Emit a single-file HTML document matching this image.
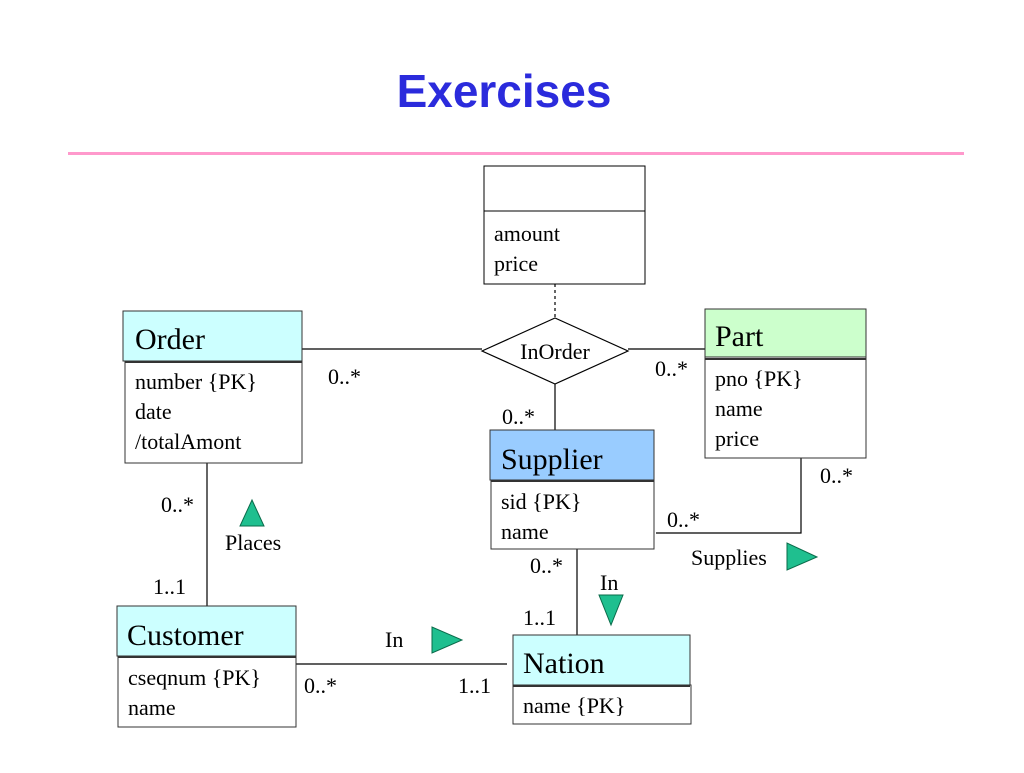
<!DOCTYPE html>
<html><head><style>
body{margin:0;background:#fff;width:1024px;height:768px;overflow:hidden}
svg text{font-family:"Liberation Serif",serif;fill:#000}
</style></head><body>
<svg width="1024" height="768" xmlns="http://www.w3.org/2000/svg">
<text x="504" y="107" text-anchor="middle" style="font-family:'Liberation Sans',sans-serif;font-weight:bold;font-size:46px;fill:#2b2bdc">Exercises</text>
<rect x="68" y="152" width="896" height="3" fill="#ff99cc"/>
<g stroke="#000" stroke-width="1.2" fill="none">
<line x1="302" y1="349" x2="482" y2="349"/>
<line x1="628" y1="349" x2="705" y2="349"/>
<line x1="555" y1="384" x2="555" y2="430"/>
<line x1="555" y1="284" x2="555" y2="318" stroke-dasharray="3,3"/>
<line x1="207" y1="463" x2="207" y2="606"/>
<line x1="577" y1="549" x2="577" y2="635"/>
<line x1="296" y1="664" x2="507" y2="664"/>
<polyline points="656,533 801,533 801,455"/>
</g>
<polygon points="482,351 555,318 628,351 555,384" fill="#fff" stroke="#000" stroke-width="1.2"/>
<text x="555" y="359" font-size="22" text-anchor="middle">InOrder</text>
<!-- top box -->
<rect x="484" y="166" width="161" height="118" fill="#fff" stroke="#000"/>
<line x1="484" y1="211" x2="645" y2="211" stroke="#000"/>
<text x="494" y="241" font-size="22">amount</text>
<text x="494" y="271" font-size="22">price</text>
<!-- Order -->
<rect x="123" y="311" width="179" height="50" fill="#ccffff" stroke="#333"/>
<rect x="125" y="361" width="177" height="102" fill="#fff" stroke="#333"/>
<line x1="125" y1="362" x2="302" y2="362" stroke="#333" stroke-width="2"/>
<text x="135" y="349" font-size="30">Order</text>
<text x="135" y="389" font-size="22">number {PK}</text>
<text x="135" y="419" font-size="22">date</text>
<text x="135" y="449" font-size="22">/totalAmont</text>
<!-- Part -->
<rect x="705" y="309" width="161" height="48" fill="#ccffcc" stroke="#333"/>
<rect x="705" y="357" width="161" height="101" fill="#fff" stroke="#333"/>
<line x1="705" y1="359" x2="866" y2="359" stroke="#333" stroke-width="2"/>
<text x="715" y="346" font-size="30">Part</text>
<text x="715" y="386" font-size="22">pno {PK}</text>
<text x="715" y="416" font-size="22">name</text>
<text x="715" y="446" font-size="22">price</text>
<!-- Supplier -->
<rect x="490" y="430" width="164" height="50" fill="#99ccff" stroke="#333"/>
<rect x="491" y="480" width="163" height="69" fill="#fff" stroke="#333"/>
<line x1="491" y1="481" x2="654" y2="481" stroke="#333" stroke-width="2"/>
<text x="501" y="469" font-size="30">Supplier</text>
<text x="501" y="509" font-size="22">sid {PK}</text>
<text x="501" y="539" font-size="22">name</text>
<!-- Customer -->
<rect x="117" y="606" width="179" height="50" fill="#ccffff" stroke="#333"/>
<rect x="118" y="656" width="178" height="71" fill="#fff" stroke="#333"/>
<line x1="118" y1="657" x2="296" y2="657" stroke="#333" stroke-width="2"/>
<text x="127" y="645" font-size="30">Customer</text>
<text x="128" y="685" font-size="22">cseqnum {PK}</text>
<text x="128" y="715" font-size="22">name</text>
<!-- Nation -->
<rect x="513" y="635" width="177" height="50" fill="#ccffff" stroke="#333"/>
<rect x="513" y="685" width="178" height="39" fill="#fff" stroke="#333"/>
<line x1="513" y1="686" x2="690" y2="686" stroke="#333" stroke-width="2"/>
<text x="523" y="673" font-size="30">Nation</text>
<text x="523" y="713" font-size="22">name {PK}</text>
<!-- multiplicities -->
<g font-size="22">
<text x="328" y="384">0..*</text>
<text x="655" y="376">0..*</text>
<text x="502" y="424">0..*</text>
<text x="820" y="483">0..*</text>
<text x="667" y="527">0..*</text>
<text x="161" y="512">0..*</text>
<text x="153" y="594">1..1</text>
<text x="225" y="550">Places</text>
<text x="530" y="573">0..*</text>
<text x="600" y="590">In</text>
<text x="523" y="625">1..1</text>
<text x="385" y="647">In</text>
<text x="304" y="693">0..*</text>
<text x="458" y="693">1..1</text>
<text x="691" y="565">Supplies</text>
</g>
<g fill="#1fbf8f" stroke="#0a6b4a" stroke-width="1">
<polygon points="252,500 240,526 264,526"/>
<polygon points="432,627 432,653 462,640"/>
<polygon points="787,543 787,570 817,557"/>
<polygon points="599,595 623,595 611,625"/>
</g>
</svg>
</body></html>
